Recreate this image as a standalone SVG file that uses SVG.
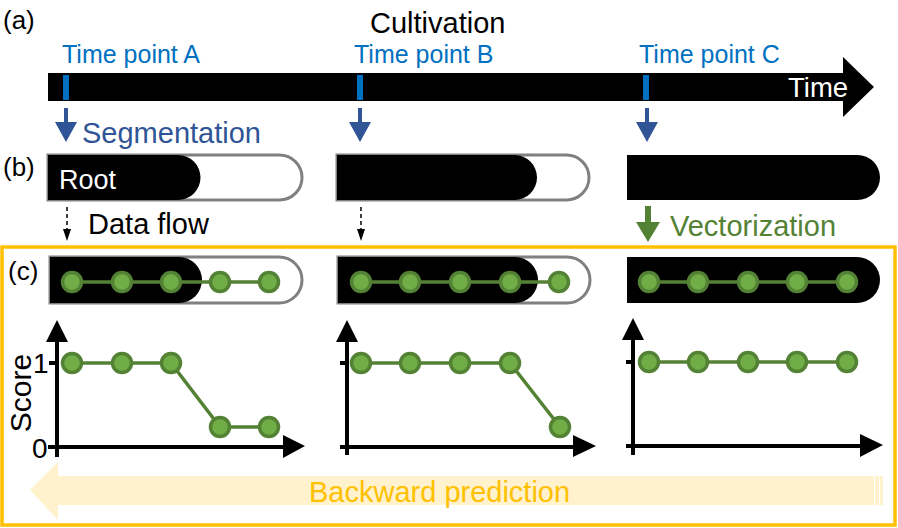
<svg xmlns="http://www.w3.org/2000/svg" width="898" height="528" viewBox="0 0 898 528">
<style>
text{font-family:"Liberation Sans",Arial,sans-serif}
.lbl{font-size:26px;fill:#000}
.big{font-size:29px}
.tp{font-size:25px;fill:#0070C0}
.out{fill:#fff;stroke:#808080;stroke-width:3}
.blk{fill:#000}
.vl{fill:none;stroke:#548235;stroke-width:3.5}
.nd{fill:#70AD47;stroke:#548235;stroke-width:3.5}
.ax{fill:none;stroke:#000;stroke-width:4}
.dash{stroke:#000;stroke-width:1.5;stroke-dasharray:4 3}
</style>
<rect x="2" y="247" width="893" height="278" fill="none" stroke="#FFC000" stroke-width="3.5"/>
<g id="labels">
<text x="3" y="29" class="lbl">(a)</text>
<text x="3" y="176" class="lbl">(b)</text>
<text x="8" y="280" class="lbl">(c)</text>
</g>
<g id="timeline">
<path d="M48,73 H843 V57 L874,87 L843,117 V101 H48 Z" fill="#000"/>
<text x="370" y="33" class="big">Cultivation</text>
<text x="788" y="97" font-size="27.5" fill="#fff">Time</text>
</g>
<g id="tpA">
<text x="62" y="63" class="tp">Time point A</text>
<rect x="63" y="75" width="6" height="25" fill="#0070C0"/>
</g>
<g id="tpB">
<text x="354" y="63" class="tp">Time point B</text>
<rect x="357" y="75" width="6" height="25" fill="#0070C0"/>
</g>
<g id="tpC">
<text x="639" y="63" class="tp">Time point C</text>
<rect x="643" y="75" width="6" height="25" fill="#0070C0"/>
</g>
<g id="connectors">
<path d="M64,108 H68 V122 H77 L66,142 L55,122 H64 Z" fill="#2F5597"/>
<path d="M358,108 H362 V122 H371 L360,142 L349,122 H358 Z" fill="#2F5597"/>
<path d="M645,108 H649 V122 H658 L647,142 L636,122 H645 Z" fill="#2F5597"/>
<line class="dash" x1="67" y1="207" x2="67" y2="229"/>
<path d="M63,229 H71 L67,241 Z" fill="#000"/>
<line class="dash" x1="361" y1="207" x2="361" y2="229"/>
<path d="M357,229 H365 L361,241 Z" fill="#000"/>
<path d="M645,206 H651 V222 H660 L648,242 L636,222 H645 Z" fill="#548235"/>
</g>
<g id="stepLabels">
<text x="82" y="143" class="big" fill="#2F5597">Segmentation</text>
<text x="88" y="234" class="big">Data flow</text>
<text x="670" y="236" class="big" fill="#548235">Vectorization</text>
</g>
<g id="rootA">
<path class="out" d="M48,155 H279.5 A22.5,22.5 0 0 1 279.5,200 H48 Z"/>
<path class="blk" d="M48,155 H178 A22.5,22.5 0 0 1 178,200 H48 Z"/>
<text x="59" y="189" font-size="27" fill="#fff">Root</text>
</g>
<g id="rootB">
<path class="out" d="M337,155 H566.5 A22.5,22.5 0 0 1 566.5,200 H337 Z"/>
<path class="blk" d="M337,155 H514.5 A22.5,22.5 0 0 1 514.5,200 H337 Z"/>
</g>
<g id="rootC">
<path class="blk" d="M627,155 H857.5 A22.5,22.5 0 0 1 857.5,200 H627 Z"/>
</g>
<g id="vecA">
<path class="out" d="M50,257 H279 A23,23 0 0 1 279,303 H50 Z"/>
<path class="blk" d="M50,257 H179 A23,23 0 0 1 179,303 H50 Z"/>
<polyline class="vl" points="72,282 269,282"/>
<circle class="nd" cx="72" cy="282" r="9.5"/><circle class="nd" cx="122" cy="282" r="9.5"/><circle class="nd" cx="171" cy="282" r="9.5"/><circle class="nd" cx="220" cy="282" r="9.5"/><circle class="nd" cx="269" cy="282" r="9.5"/>
</g>
<g id="vecB">
<path class="out" d="M338,257 H567 A23,23 0 0 1 567,303 H338 Z"/>
<path class="blk" d="M338,257 H515 A23,23 0 0 1 515,303 H338 Z"/>
<polyline class="vl" points="361,282 559,282"/>
<circle class="nd" cx="361" cy="282" r="9.5"/><circle class="nd" cx="410" cy="282" r="9.5"/><circle class="nd" cx="460" cy="282" r="9.5"/><circle class="nd" cx="510" cy="282" r="9.5"/><circle class="nd" cx="559" cy="282" r="9.5"/>
</g>
<g id="vecC">
<path class="blk" d="M627,257 H857 A23,23 0 0 1 857,303 H627 Z"/>
<polyline class="vl" points="649,282 847,282"/>
<circle class="nd" cx="649" cy="282" r="9.5"/><circle class="nd" cx="698" cy="282" r="9.5"/><circle class="nd" cx="748" cy="282" r="9.5"/><circle class="nd" cx="797" cy="282" r="9.5"/><circle class="nd" cx="847" cy="282" r="9.5"/>
</g>
<g id="backward">
<path d="M58,476 H883 V505 H58 V520 L30,490 L58,462 Z" fill="#FFF2CC"/>
<line x1="874.5" y1="476" x2="874.5" y2="505" stroke="#fff" stroke-width="1"/>
<line x1="879.5" y1="476" x2="879.5" y2="505" stroke="#fff" stroke-width="1"/>
<text x="309" y="502" class="big" fill="#FFC000">Backward prediction</text>
</g>
<g id="chartA">
<path class="ax" d="M57,457 V340 M48,447 H285 M49,363 H57"/>
<path d="M46,342 L57,320 L68,342 Z M283,435 L305,446 L283,458 Z"/>
<text x="33" y="373" font-size="28">1</text>
<text x="32" y="458" font-size="28">0</text>
<text transform="translate(31,393) rotate(-90)" text-anchor="middle" font-size="30">Score</text>
<polyline class="vl" points="72,363 122,363 171,363 220,427 269,427"/>
<circle class="nd" cx="72" cy="363" r="9.5"/><circle class="nd" cx="122" cy="363" r="9.5"/><circle class="nd" cx="171" cy="363" r="9.5"/><circle class="nd" cx="220" cy="427" r="9.5"/><circle class="nd" cx="269" cy="427" r="9.5"/>
</g>
<g id="chartB">
<path class="ax" d="M347,455 V340 M340,447 H575 M340,363 H347"/>
<path d="M336,342 L347,320 L358,342 Z M573,435 L596,446 L573,457 Z"/>
<polyline class="vl" points="361,363 410,363 460,363 510,363 560,427"/>
<circle class="nd" cx="361" cy="363" r="9.5"/><circle class="nd" cx="410" cy="363" r="9.5"/><circle class="nd" cx="460" cy="363" r="9.5"/><circle class="nd" cx="510" cy="363" r="9.5"/><circle class="nd" cx="560" cy="427" r="9.5"/>
</g>
<g id="chartC">
<path class="ax" d="M633,455 V338 M626,446 H862 M626,362 H633"/>
<path d="M622,340 L633,318 L644,340 Z M860,434 L883,445 L860,457 Z"/>
<polyline class="vl" points="649,362 847,362"/>
<circle class="nd" cx="649" cy="362" r="9.5"/><circle class="nd" cx="698" cy="362" r="9.5"/><circle class="nd" cx="748" cy="362" r="9.5"/><circle class="nd" cx="797" cy="362" r="9.5"/><circle class="nd" cx="847" cy="362" r="9.5"/>
</g>
</svg>
